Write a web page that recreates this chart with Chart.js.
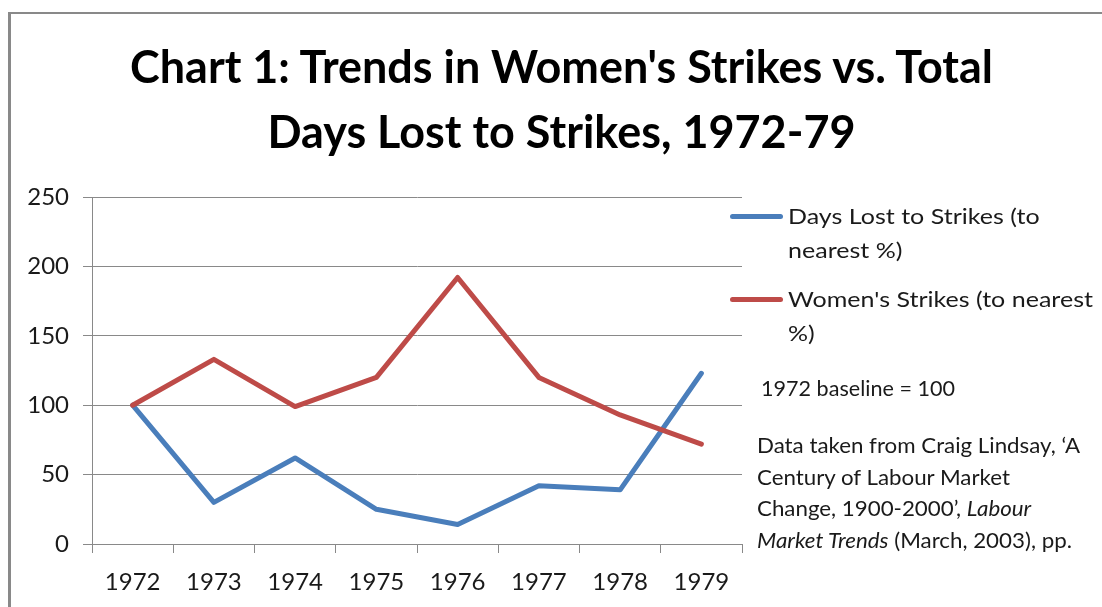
<!DOCTYPE html>
<html lang="en">
<head>
  <meta charset="UTF-8" />
  <title>Women's Strikes vs Days Lost</title>
  <script src="https://cdn.jsdelivr.net/npm/chart.js"></script>
  <style>
    body {
      margin: 0;
      width: 1102px;
      height: 607px;
      overflow: hidden;
      background: #fff;
      font-family: 'Lato', sans-serif;
      color: #1a1a1a;
      position: relative;
    }
    .frame {
      position: absolute;
      left: 8px;
      top: 12px;
      width: 2000px;
      height: 2000px;
      border-left: 3px solid #898989;
      border-top: 2px solid #898989;
    }
    #chart {
      position: absolute;
      left: 0;
      top: 0;
    }
    .txt {
      position: absolute;
      white-space: nowrap;
      transform-origin: 0 0;
    }
    .ln {
      display: block;
      width: max-content;
    }
    .title {
      left: 0;
      width: 1123px;
      top: 33px;
      font-size: 46px;
      line-height: 65px;
      font-weight: bold;
      color: #000;
      text-align: center;
      transform-origin: 561.5px 0;
    }
    .title .ln { margin: 0 auto; }
    .legend-item { position: absolute; left: 730px; }
    .swatch {
      position: absolute;
      left: 0;
      width: 53px;
      height: 5px;
      border-radius: 3px;
    }
    .legend-item .txt {
      left: 58px;
      top: 0;
      font-size: 22px;
      line-height: 34px;
    }
    .baseline { left: 761px; top: 372px; font-size: 21px; line-height: 32px; }
    .note { left: 757px; top: 429px; font-size: 21px; line-height: 31.5px; }
  </style>
</head>
<body>

<div class="frame"></div>
<canvas id="chart" width="1102" height="607"></canvas>

<div class="txt title" data-w="863">
  <span class="ln">Chart 1: Trends in Women's Strikes vs. Total</span>
  <span class="ln">Days Lost to Strikes, 1972-79</span>
</div>

<div id="legend"></div>

<div class="txt baseline" data-w="194"><span class="ln">1972 baseline = 100</span></div>

<div class="txt note" data-w="323">
  <span class="ln">Data taken from Craig Lindsay, ‘A</span>
  <span class="ln">Century of Labour Market</span>
  <span class="ln">Change, 1900-2000’, <i>Labour</i></span>
  <span class="ln"><i>Market Trends</i> (March, 2003), pp.</span>
</div>

<script>
  const years = ['1972', '1973', '1974', '1975', '1976', '1977', '1978', '1979'];
  const daysLost = [100, 30, 62, 25, 14, 42, 39, 123];
  const womensStrikes = [100, 133, 99, 120, 192, 120, 93, 72];
  const yTickValues = [0, 50, 100, 150, 200, 250];

  const seriesLabels = [
    ['Days Lost to Strikes (to', 'nearest %)'],
    ["Women's Strikes (to nearest", '%)']
  ];
  const seriesColors = ['#4a7ebb', '#be4b48'];

  const axisColor = '#898989';
  const tickFont = { family: 'Lato', size: 24 };

  new Chart(document.getElementById('chart'), {
    type: 'line',
    data: {
      labels: years,
      datasets: [
        { label: seriesLabels[0].join(' '), data: daysLost, order: 1 },
        { label: seriesLabels[1].join(' '), data: womensStrikes, order: 0 }
      ].map((d, i) => Object.assign(d, {
        borderColor: seriesColors[i],
        backgroundColor: seriesColors[i],
        borderWidth: 5,
        pointRadius: 0,
        tension: 0,
        borderJoinStyle: 'round',
        borderCapStyle: 'round'
      }))
    },
    options: {
      responsive: false,
      animation: false,
      layout: { padding: { top: 197, right: 360, bottom: 0, left: 0 } },
      plugins: {
        legend: { display: false },
        title: { display: false },
        tooltip: { enabled: false }
      },
      scales: {
        x: {
          offset: true,
          grid: { offset: true, drawOnChartArea: false, tickLength: 9, color: axisColor },
          border: { color: axisColor, width: 1 },
          ticks: { font: tickFont, color: '#1a1a1a', padding: 15, maxRotation: 0 },
          afterFit: s => { s.height = 63; }
        },
        y: {
          min: 0,
          max: 250,
          afterBuildTicks: s => { s.ticks = yTickValues.map(v => ({ value: v })); },
          grid: { color: axisColor, tickLength: 9 },
          border: { color: axisColor, width: 1 },
          ticks: { font: tickFont, color: '#1a1a1a', padding: 14 },
          afterFit: s => { s.width = 92; }
        }
      }
    }
  });

  // html legend with the wrapped labels
  const legendTops = [199, 282];
  const legend = document.getElementById('legend');
  seriesLabels.forEach((lines, i) => {
    const item = document.createElement('div');
    item.className = 'legend-item';
    item.style.top = legendTops[i] + 'px';
    item.innerHTML = `<div class="swatch" style="top:15px;background:${seriesColors[i]}"></div>` +
      `<div class="txt" data-w="${i === 1 ? 305 : 0}">` +
      lines.map(t => `<span class="ln">${t}</span>`).join('') + '</div>';
    legend.appendChild(item);
  });

  // squeeze text horizontally to the width seen in the reference
  function fitText() {
    let legendScale = 1;
    const boxes = document.querySelectorAll('.txt[data-w]');
    boxes.forEach(box => {
      const target = +box.dataset.w;
      if (!target) return;
      const widest = Math.max(...[...box.querySelectorAll('.ln')].map(l => l.getBoundingClientRect().width));
      const s = target / widest;
      box.style.transform = `scaleX(${s})`;
      if (box.closest('.legend-item')) legendScale = s;
    });
    document.querySelectorAll('.legend-item .txt[data-w="0"]').forEach(b => {
      b.style.transform = `scaleX(${legendScale})`;
    });
  }
  document.fonts.ready.then(fitText);
</script>

</body>
</html>
